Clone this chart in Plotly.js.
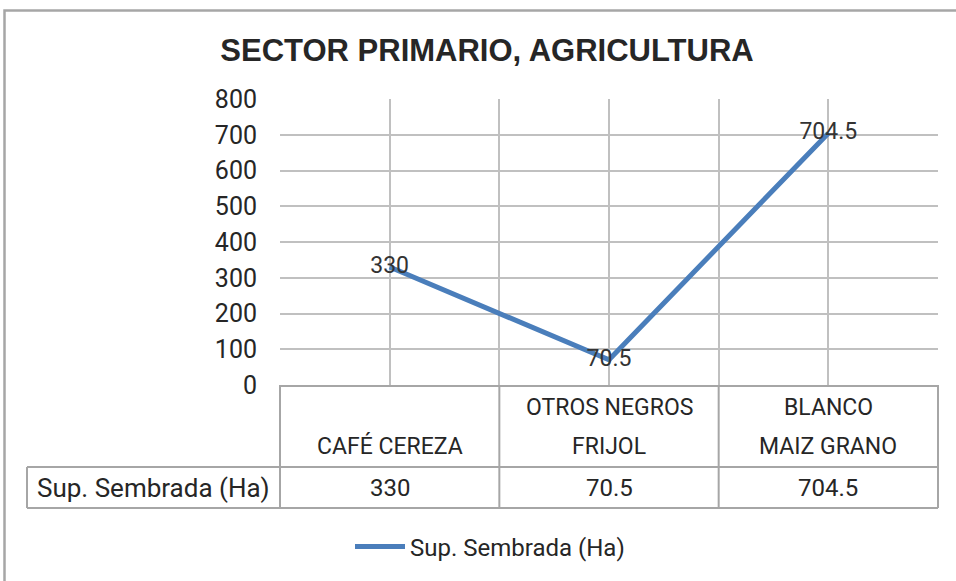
<!DOCTYPE html>
<html>
<head>
<meta charset="utf-8">
<script src="https://cdn.plot.ly/plotly-3.0.1.min.js"></script>
<style>html,body{margin:0;padding:0;background:#fff;}#chart{width:956px;height:581px;}</style>
</head>
<body>
<div id="chart"></div>
<script>
// ---- data ----
const categories = ["CAFÉ CEREZA", "FRIJOL OTROS NEGROS", "MAIZ GRANO BLANCO"];
const catTopLine = ["", "OTROS NEGROS", "BLANCO"];
const catBottomLine = ["CAFÉ CEREZA", "FRIJOL", "MAIZ GRANO"];
const seriesName = "Sup. Sembrada (Ha)";
const values = [330, 70.5, 704.5];
const yTicks = [0, 100, 200, 300, 400, 500, 600, 700, 800];
const chartTitle = "SECTOR PRIMARIO, AGRICULTURA";

// ---- layout helpers ----
const W = 956, H = 581;
const M = {l: 280, r: 18, t: 99, b: 196};
const plotW = W - M.l - M.r, plotH = H - M.t - M.b;
const px2x = p => (p - M.l) / plotW;           // pixel -> paper x
const py2y = p => (H - M.b - p) / plotH;        // pixel -> paper y
const n = categories.length;
const catX = i => (i + 0.5) / n;                // category centre in paper
const bndX = i => i / n;                        // category boundary in paper

const textFont = "Roboto, 'Liberation Sans', sans-serif";
const textColor = "#262626";
const lineGray = "#a6a6a6";

const trace = {
  x: categories,
  y: values,
  type: "scatter",
  mode: "lines+text",
  name: seriesName,
  text: values.map(v => String(v)),
  textposition: "middle center",
  textfont: {family: textFont, size: 23, color: "#333333"},
  line: {color: "#4a7ebb", width: 5},
  hoverinfo: "x+y",
  cliponaxis: false
};
// overlay axis for the centre gridlines
const gridTrace = {x: [0, 2], y: [0, 0], xaxis: "x2", yaxis: "y", mode: "markers",
  marker: {opacity: 0}, showlegend: false, hoverinfo: "skip"};

const shapes = [];
const hdrBottom = py2y(467), rowBottom = py2y(508), leftX = px2x(27);
// vertical table borders at category boundaries
for (let i = 0; i <= n; i++) {
  shapes.push({type: "line", xref: "paper", yref: "paper", x0: bndX(i), x1: bndX(i),
    y0: 0, y1: rowBottom, line: {color: lineGray, width: 2}});
}
// horizontal table lines
shapes.push({type: "line", xref: "paper", yref: "paper", x0: leftX, x1: 1, y0: hdrBottom, y1: hdrBottom, line: {color: lineGray, width: 2}});
shapes.push({type: "line", xref: "paper", yref: "paper", x0: leftX, x1: 1, y0: rowBottom, y1: rowBottom, line: {color: lineGray, width: 2}});
shapes.push({type: "line", xref: "paper", yref: "paper", x0: leftX, x1: leftX, y0: hdrBottom, y1: rowBottom, line: {color: lineGray, width: 2}});
// outer chart border
shapes.push({type: "rect", xref: "paper", yref: "paper", x0: px2x(4.5), x1: px2x(W + 20), y0: py2y(H + 20), y1: py2y(10.5),
  line: {color: "#a6a6a6", width: 2.5}, layer: "below"});

const annotations = [];
for (let i = 0; i < n; i++) {
  if (catTopLine[i]) annotations.push({xref: "paper", yref: "paper", x: catX(i), y: py2y(407), text: catTopLine[i],
    showarrow: false, font: {family: textFont, size: 23, color: textColor}, xanchor: "center", yanchor: "middle"});
  annotations.push({xref: "paper", yref: "paper", x: catX(i), y: py2y(446), text: catBottomLine[i],
    showarrow: false, font: {family: textFont, size: 23, color: textColor}, xanchor: "center", yanchor: "middle"});
  annotations.push({xref: "paper", yref: "paper", x: catX(i), y: py2y(488), text: String(values[i]),
    showarrow: false, font: {family: textFont, size: 24, color: textColor}, xanchor: "center", yanchor: "middle"});
}
annotations.push({xref: "paper", yref: "paper", x: (leftX + 0) / 2, y: py2y(488), text: seriesName,
  showarrow: false, font: {family: textFont, size: 26, color: textColor}, xanchor: "center", yanchor: "middle"});

const layout = {
  width: W, height: H,
  margin: M,
  paper_bgcolor: "#ffffff",
  plot_bgcolor: "#ffffff",
  title: {text: chartTitle, x: 487 / W, xref: "container", xanchor: "center",
    y: 1 - 50 / H, yref: "container", yanchor: "middle",
    font: {family: "'Liberation Sans', Arial, sans-serif", size: 31, color: "#262626", weight: "bold"}},
  xaxis: {type: "category", range: [-0.5, n - 0.5], showticklabels: false, ticks: "",
    tickson: "boundaries", showgrid: true, gridcolor: "#c0c0c0", gridwidth: 2,
    showline: true, linecolor: lineGray, linewidth: 2, zeroline: false, fixedrange: true},
  xaxis2: {overlaying: "x", range: [-0.5, n - 0.5], tickmode: "linear", tick0: 0, dtick: 1,
    showticklabels: false, ticks: "", showgrid: true, gridcolor: "#c0c0c0", gridwidth: 2,
    zeroline: false, showline: false, fixedrange: true},
  yaxis: {range: [0, 800], tickmode: "array", tickvals: yTicks, ticktext: yTicks.map(String),
    tickfont: {family: textFont, size: 25, color: textColor}, ticklabelstandoff: 22,
    showgrid: true, gridcolor: "#c0c0c0", gridwidth: 2, zeroline: false, ticks: "",
    showline: false, fixedrange: true},
  showlegend: true,
  legend: {orientation: "h", x: px2x(490), xanchor: "center", y: py2y(547), yanchor: "middle",
    font: {family: textFont, size: 24, color: textColor}, itemwidth: 50, bgcolor: "rgba(0,0,0,0)"},
  shapes: shapes,
  annotations: annotations
};

Plotly.newPlot("chart", [gridTrace, trace], layout, {displayModeBar: false, staticPlot: true});
</script>
</body>
</html>
